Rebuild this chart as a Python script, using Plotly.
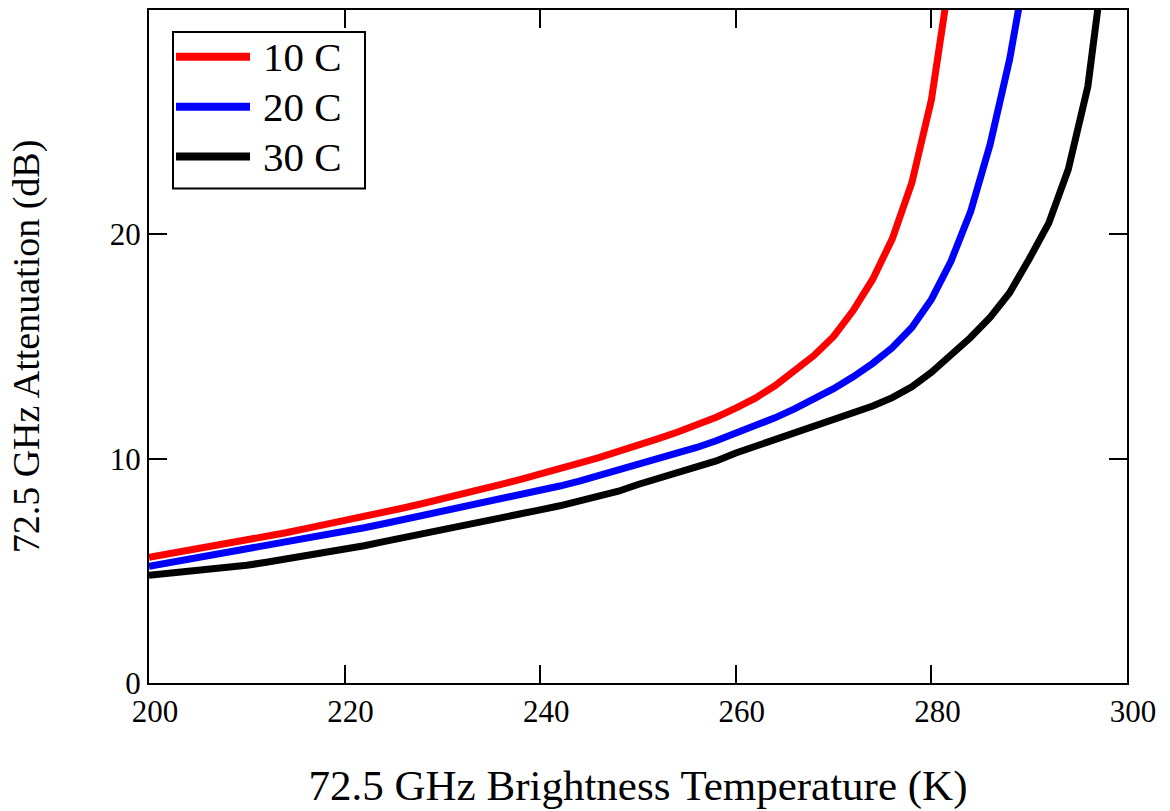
import plotly.graph_objects as go

# Brightness temperature samples (K) for each curve
tb_10c = [200, 202, 204, 206, 208, 210, 212, 214, 216, 218, 220, 222, 224, 226, 228,
          230, 232, 234, 236, 238, 240, 242, 244, 246, 248, 250, 252, 254, 256, 258,
          260, 262, 264, 266, 268, 270, 272, 274, 276, 278, 280, 282]
att_10c = [5.6, 5.75, 5.92, 6.08, 6.22, 6.38, 6.52, 6.7, 6.88, 7.05, 7.25, 7.43, 7.62,
           7.8, 8.0, 8.2, 8.42, 8.62, 8.85, 9.08, 9.3, 9.55, 9.8, 10.05, 10.3, 10.58,
           10.88, 11.18, 11.5, 11.85, 12.25, 12.7, 13.25, 13.9, 14.6, 15.45, 16.6,
           18.0, 19.8, 22.3, 26.0, 31.8]

tb_20c = [200, 202, 204, 206, 208, 210, 212, 214, 216, 218, 220, 222, 224, 226, 228,
          230, 232, 234, 236, 238, 240, 242, 244, 246, 248, 250, 252, 254, 256, 258,
          260, 262, 264, 266, 268, 270, 272, 274, 276, 278, 280, 282, 284, 286, 288,
          290]
att_20c = [5.2, 5.35, 5.5, 5.65, 5.8, 5.97, 6.1, 6.25, 6.4, 6.58, 6.75, 6.92, 7.1,
           7.28, 7.46, 7.65, 7.83, 8.0, 8.18, 8.36, 8.55, 8.78, 9.0, 9.24, 9.48, 9.72,
           9.98, 10.24, 10.5, 10.8, 11.12, 11.45, 11.82, 12.22, 12.65, 13.12, 13.65,
           14.25, 14.95, 15.85, 17.1, 18.8, 21.0, 24.0, 27.8, 32.7]

tb_30c = [200, 202, 204, 206, 208, 210, 212, 214, 216, 218, 220, 222, 224, 226, 228,
          230, 232, 234, 236, 238, 240, 242, 244, 246, 248, 250, 252, 254, 256, 258,
          260, 262, 264, 266, 268, 270, 272, 274, 276, 278, 280, 282, 284, 286, 288,
          290, 292, 294, 296, 298]
att_30c = [4.8, 4.88, 4.97, 5.06, 5.15, 5.25, 5.38, 5.52, 5.66, 5.8, 5.95, 6.12, 6.3,
           6.47, 6.63, 6.8, 6.98, 7.17, 7.36, 7.55, 7.72, 7.9, 8.1, 8.3, 8.55, 8.85,
           9.12, 9.38, 9.62, 9.9, 10.25, 10.55, 10.85, 11.12, 11.42, 11.72, 12.02,
           12.35, 12.72, 13.2, 13.85, 14.6, 15.4, 16.3, 17.4, 18.9, 20.5, 22.9,
           26.6, 33.4]

series_names = ["10 C", "20 C", "30 C"]
series_colors = ["#ff0000", "#0000ff", "#000000"]

x_ticks = [200, 220, 240, 260, 280, 300]
y_ticks = [0, 10, 20]

FONT = "Liberation Serif, Times New Roman, serif"

fig = go.Figure()
for name, color, xs, ys in zip(series_names, series_colors,
                               [tb_10c, tb_20c, tb_30c],
                               [att_10c, att_20c, att_30c]):
    fig.add_trace(go.Scatter(x=xs, y=ys, mode="lines", name=name,
                             line=dict(color=color, width=7),
                             showlegend=False))

# Boxed legend drawn in paper coordinates
plot_l, plot_r, plot_t, plot_b = 149, 1127, 8, 683
pw, ph = plot_r - plot_l, plot_b - plot_t


def px(x):
    return (x - plot_l) / pw


def py(y):
    return (plot_b - y) / ph


shapes = [dict(type="rect", xref="paper", yref="paper",
               x0=px(173), x1=px(365), y0=py(187), y1=py(30),
               line=dict(color="black", width=2), fillcolor="white", layer="above")]
annotations = []
for i, (name, color) in enumerate(zip(series_names, series_colors)):
    yy = 55 + 50 * i
    shapes.append(dict(type="line", xref="paper", yref="paper",
                       x0=px(176), x1=px(250), y0=py(yy), y1=py(yy),
                       line=dict(color=color, width=8), layer="above"))
    annotations.append(dict(xref="paper", yref="paper", x=px(261), y=py(yy),
                            xanchor="left", yanchor="middle", showarrow=False,
                            text=name, font=dict(family=FONT, size=41, color="black")))

fig.update_layout(
    width=1170, height=811,
    margin=dict(l=plot_l, r=1170 - plot_r, t=plot_t, b=811 - plot_b),
    paper_bgcolor="white", plot_bgcolor="white",
    font=dict(family=FONT, color="black"),
    shapes=shapes, annotations=annotations,
    xaxis=dict(range=[200, 300], tickvals=x_ticks, ticks="inside", ticklen=18,
               tickwidth=2, tickcolor="black", showline=True, linecolor="black",
               linewidth=2, mirror="ticks", showgrid=False, zeroline=False,
               tickfont=dict(size=31, family=FONT), ticklabelshift=6,
               title=dict(text="72.5 GHz Brightness Temperature (K)",
                          font=dict(size=43, family=FONT), standoff=42)),
    yaxis=dict(range=[0, 30], tickvals=y_ticks, ticks="inside", ticklen=18,
               tickwidth=2, tickcolor="black", showline=True, linecolor="black",
               linewidth=2, mirror="ticks", showgrid=False, zeroline=False,
               tickfont=dict(size=31, family=FONT),
               title=dict(text="72.5 GHz Attenuation (dB)",
                          font=dict(size=38, family=FONT), standoff=58)),
)

fig.write_html("out.html")
